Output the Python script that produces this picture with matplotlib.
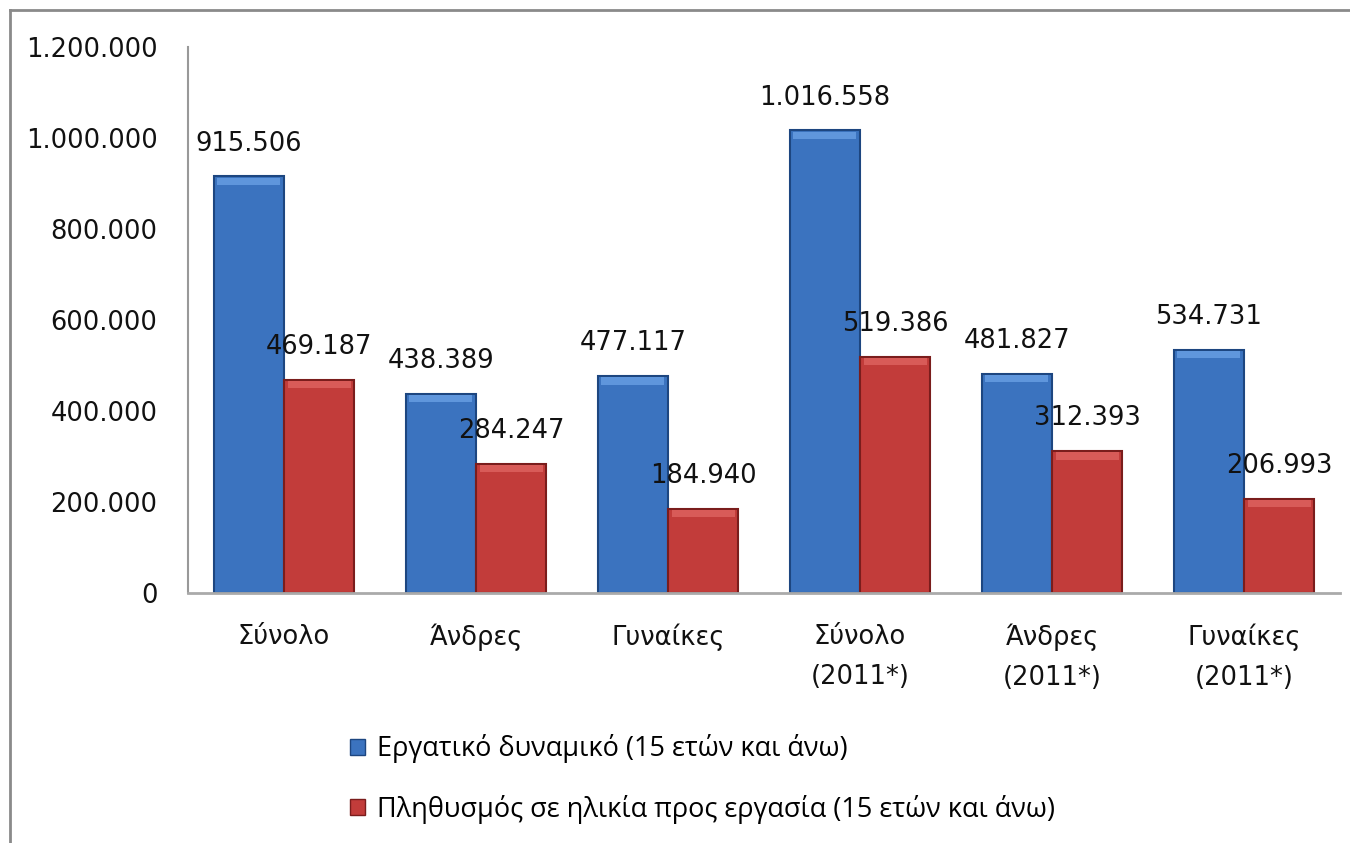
import matplotlib
matplotlib.use("Agg")
import matplotlib.pyplot as plt
from matplotlib.patches import Patch
from matplotlib.lines import Line2D
from matplotlib.ticker import FuncFormatter
import numpy as np

categories = ["Σύνολο", "Άνδρες", "Γυναίκες", "Σύνολο\n(2011*)", "Άνδρες\n(2011*)", "Γυναίκες\n(2011*)"]
labour_force = [915506, 438389, 477117, 1016558, 481827, 534731]
working_age = [469187, 284247, 184940, 519386, 312393, 206993]
series_names = ["Εργατικό δυναμικό (15 ετών και άνω)",
                "Πληθυσμός σε ηλικία προς εργασία (15 ετών και άνω)"]
yticks = [0, 200000, 400000, 600000, 800000, 1000000, 1200000]

def fmt(v):
    return f"{int(v):,}".replace(",", ".")

plt.rcParams['font.family'] = ['DejaVu Sans']

W, H = 1350, 843
fig = plt.figure(figsize=(W/100, H/100), dpi=100)
fig.patch.set_facecolor('white')

ax = fig.add_axes([188/W, 1-593/H, (1340-188)/W, (593-47)/H])

x = np.arange(len(categories))
bw = 0.365
blue, blue_edge, blue_hi = '#3b73bf', '#1d4680', '#5f96dc'
red, red_edge, red_hi = '#c23c3a', '#7a1d1c', '#d85b58'

xb = x - bw/2
xr = x + bw/2
ax.bar(xb, labour_force, bw, color=blue, edgecolor=blue_edge, linewidth=1.5, zorder=2)
ax.bar(xr, working_age, bw, color=red, edgecolor=red_edge, linewidth=1.5, zorder=2)
# bevel highlight strip at top of bars
hi = 16000
ax.bar(xb, [hi]*len(x), bw*0.9, bottom=np.array(labour_force)-hi-3000, color=blue_hi, linewidth=0, zorder=3)
ax.bar(xr, [hi]*len(x), bw*0.9, bottom=np.array(working_age)-hi-3000, color=red_hi, linewidth=0, zorder=3)

for xi, v in zip(xb, labour_force):
    ax.annotate(fmt(v), (xi, v), xytext=(0, 14), textcoords='offset points',
                ha='center', va='bottom', fontsize=18.5, color='#111111', zorder=4)
for xi, v in zip(xr, working_age):
    ax.annotate(fmt(v), (xi, v), xytext=(0, 14), textcoords='offset points',
                ha='center', va='bottom', fontsize=18.5, color='#111111', zorder=4)

ax.set_xlim(-0.5, len(categories)-0.5)
ax.set_ylim(0, 1200000)
ax.set_yticks(yticks)
ax.yaxis.set_major_formatter(FuncFormatter(lambda v, p: fmt(v)))
ax.set_xticks(x)
ax.set_xticklabels(categories, fontsize=18.5, linespacing=1.7)
ax.tick_params(axis='y', length=0, pad=22, labelsize=18.5, labelcolor='#111111')
ax.tick_params(axis='x', length=0, pad=22, labelcolor='#111111')
for s in ['top', 'right']:
    ax.spines[s].set_visible(False)
ax.spines['left'].set_color('#999999')
ax.spines['bottom'].set_color('#aaaaaa')
ax.spines['left'].set_linewidth(1.5)
ax.spines['bottom'].set_linewidth(2)

handles = [Patch(facecolor=blue, edgecolor=blue_edge), Patch(facecolor=red, edgecolor=red_edge)]
leg = ax.legend(handles, series_names, loc='upper left', bbox_to_anchor=(326/W, 1-710/H),
                bbox_transform=fig.transFigure, frameon=False,
                prop={'family': ['Open Sans', 'DejaVu Sans'], 'size': 19.5},
                handlelength=0.55, handleheight=0.55, handletextpad=0.45, labelspacing=1.15)

# outer frame
fig.add_artist(Line2D([10/W, 1], [1-10/H, 1-10/H], color='#8a8a8a', lw=2, transform=fig.transFigure))
fig.add_artist(Line2D([10/W, 10/W], [0, 1-10/H], color='#8a8a8a', lw=2, transform=fig.transFigure))

fig.savefig('out.png', dpi=100)
